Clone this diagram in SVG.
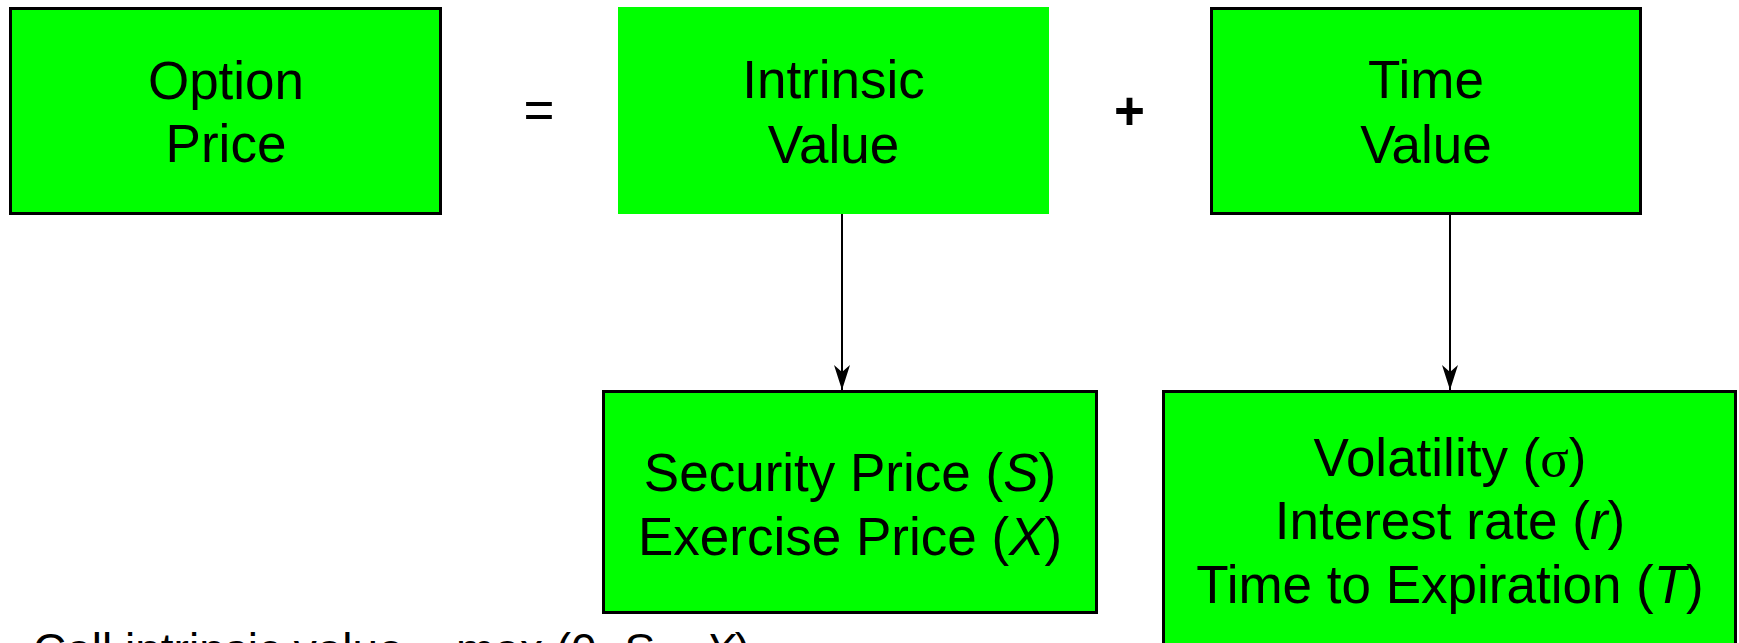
<svg xmlns="http://www.w3.org/2000/svg" width="1739" height="643" viewBox="0 0 1739 643">
<style>
.box{fill:#00FF00;stroke:#000;stroke-width:3}
.nob{fill:#00FF00}
.t{font-family:"Liberation Sans",Arial,sans-serif;font-size:53px;fill:#000;text-anchor:middle}
.b{font-family:"Liberation Sans",Arial,sans-serif;font-size:46px;fill:#000}
.conn{stroke:#000;stroke-width:2;fill:none}
</style>
<defs>
<marker id="ah" markerUnits="userSpaceOnUse" markerWidth="26" markerHeight="16" refX="25" refY="8" orient="auto">
<path d="M0,0 L25,8 L0,16 L7,8 Z" fill="#000"/>
</marker>
</defs>
<rect width="1739" height="643" fill="#fff"/>
<g id="option-price">
<rect class="box" x="10.5" y="8.5" width="430" height="205"/>
<text class="t" x="226" y="99">Option</text>
<text class="t" x="226" y="162">Price</text>
</g>
<g id="equals"><text class="t" x="539" y="128">=</text></g>
<g id="intrinsic-value">
<rect class="nob" x="618" y="7" width="431" height="207"/>
<text class="t" x="833.5" y="98">Intrinsic</text>
<text class="t" x="833.5" y="163">Value</text>
</g>
<g id="plus"><text class="t" x="1129.5" y="129" font-weight="bold">+</text></g>
<g id="time-value">
<rect class="box" x="1211.5" y="8.5" width="429" height="205"/>
<text class="t" x="1426" y="98">Time</text>
<text class="t" x="1426" y="163">Value</text>
</g>
<g id="intrinsic-factors">
<rect class="box" x="603.5" y="391.5" width="493" height="221"/>
<text class="t" x="850" y="491">Security Price (<tspan font-style="italic">S</tspan>)</text>
<text class="t" x="850" y="555">Exercise Price (<tspan font-style="italic">X</tspan>)</text>
</g>
<g id="time-factors">
<rect class="box" x="1163.5" y="391.5" width="572" height="270"/>
<text class="t" x="1450" y="476">Volatility (<tspan font-family="'Liberation Serif',serif">σ</tspan>)</text>
<text class="t" x="1450" y="539">Interest rate (<tspan font-style="italic">r</tspan>)</text>
<text class="t" x="1450" y="603">Time to Expiration (<tspan font-style="italic">T</tspan>)</text>
</g>
<g id="connectors">
<line class="conn" x1="842" y1="214" x2="842" y2="390" marker-end="url(#ah)"/>
<line class="conn" x1="1450" y1="214" x2="1450" y2="390" marker-end="url(#ah)"/>
</g>
<g id="formula">
<text class="b" x="33" y="666">Call intrinsic value = max (0, <tspan font-style="italic">S</tspan> – <tspan font-style="italic">X</tspan>)</text>
</g>
</svg>
